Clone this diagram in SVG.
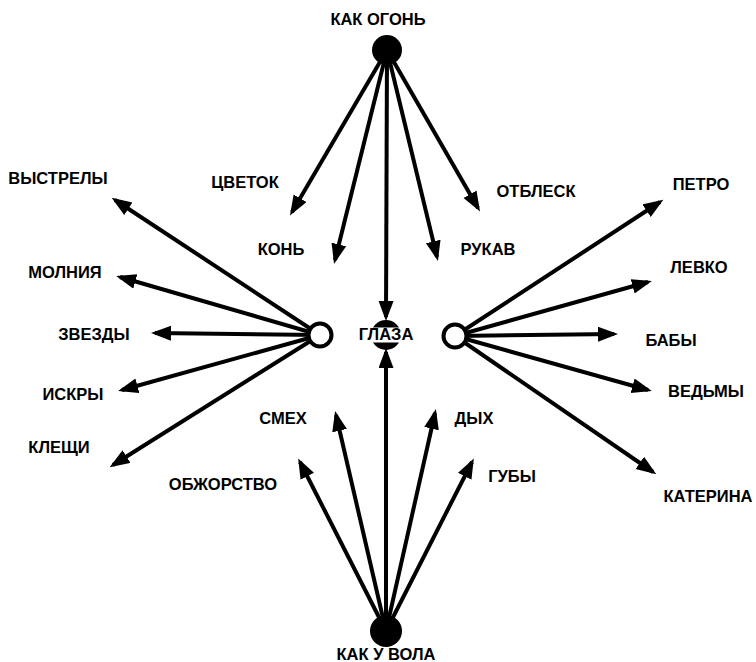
<svg xmlns="http://www.w3.org/2000/svg" width="756" height="662" viewBox="0 0 756 662">
<defs>
<marker id="ah" markerUnits="userSpaceOnUse" markerWidth="22" markerHeight="16" refX="16" refY="7.5" orient="auto">
<path d="M0,0 L20,7.5 L0,15 z" fill="#000"/>
</marker>
<style>
.t{font-family:"Liberation Sans",Arial,sans-serif;font-weight:bold;font-size:16.5px;fill:#000;text-anchor:middle}
.c line{stroke:#000;stroke-width:4;marker-end:url(#ah)}
</style>
</defs>
<rect width="756" height="662" fill="#fff"/>
<g class="c" id="connectors">
<line x1="387" y1="50" x2="292" y2="212"/>
<line x1="387" y1="50" x2="335" y2="260"/>
<line x1="387" y1="50" x2="386" y2="317"/>
<line x1="387" y1="50" x2="437" y2="257"/>
<line x1="387" y1="50" x2="478" y2="208"/>
<line x1="320" y1="335" x2="115" y2="200"/>
<line x1="320" y1="335" x2="120" y2="277"/>
<line x1="320" y1="335" x2="155" y2="333"/>
<line x1="320" y1="335" x2="122" y2="390"/>
<line x1="320" y1="335" x2="113" y2="465"/>
<line x1="455" y1="336" x2="660" y2="202"/>
<line x1="455" y1="336" x2="648" y2="282"/>
<line x1="455" y1="336" x2="614" y2="334"/>
<line x1="455" y1="336" x2="648" y2="390"/>
<line x1="455" y1="336" x2="653" y2="472"/>
<line x1="386" y1="631" x2="300" y2="462"/>
<line x1="386" y1="631" x2="336" y2="415"/>
<line x1="386" y1="631" x2="386" y2="352"/>
<line x1="386" y1="631" x2="435" y2="413"/>
<line x1="386" y1="631" x2="472" y2="462"/>
</g>
<g id="n-ogon"><circle cx="387" cy="50" r="15" fill="#000"/><text class="t" x="378" y="25">КАК ОГОНЬ</text></g>
<g id="n-vol"><circle cx="386" cy="631" r="16" fill="#000"/><text class="t" x="386" y="660">КАК У ВОЛА</text></g>
<g id="n-left"><circle cx="320" cy="335" r="11.5" fill="#fff" stroke="#000" stroke-width="4"/></g>
<g id="n-right"><circle cx="455" cy="336" r="11.5" fill="#fff" stroke="#000" stroke-width="4"/></g>
<g id="n-glaza"><circle cx="386" cy="335" r="15" fill="#000"/><rect x="356" y="327.5" width="62" height="15" fill="#fff"/><text class="t" x="386" y="340">ГЛАЗА</text></g>
<g id="l-cvetok"><text class="t" x="245" y="188">ЦВЕТОК</text></g>
<g id="l-koni"><text class="t" x="281" y="255">КОНЬ</text></g>
<g id="l-rukav"><text class="t" x="488" y="255">РУКАВ</text></g>
<g id="l-otblesk"><text class="t" x="536" y="197">ОТБЛЕСК</text></g>
<g id="l-vystrely"><text class="t" x="58" y="184">ВЫСТРЕЛЫ</text></g>
<g id="l-molniya"><text class="t" x="65" y="278">МОЛНИЯ</text></g>
<g id="l-zvezdy"><text class="t" x="94" y="340">ЗВЕЗДЫ</text></g>
<g id="l-iskry"><text class="t" x="73" y="400">ИСКРЫ</text></g>
<g id="l-kleshchi"><text class="t" x="59" y="453">КЛЕЩИ</text></g>
<g id="l-petro"><text class="t" x="701" y="190">ПЕТРО</text></g>
<g id="l-levko"><text class="t" x="699" y="273">ЛЕВКО</text></g>
<g id="l-baby"><text class="t" x="671" y="346">БАБЫ</text></g>
<g id="l-vedmy"><text class="t" x="706" y="397">ВЕДЬМЫ</text></g>
<g id="l-katerina"><text class="t" x="708" y="502">КАТЕРИНА</text></g>
<g id="l-smeh"><text class="t" x="283" y="424">СМЕХ</text></g>
<g id="l-dyh"><text class="t" x="474" y="424">ДЫХ</text></g>
<g id="l-obzhorstvo"><text class="t" x="223" y="490">ОБЖОРСТВО</text></g>
<g id="l-guby"><text class="t" x="512" y="482">ГУБЫ</text></g>
</svg>
